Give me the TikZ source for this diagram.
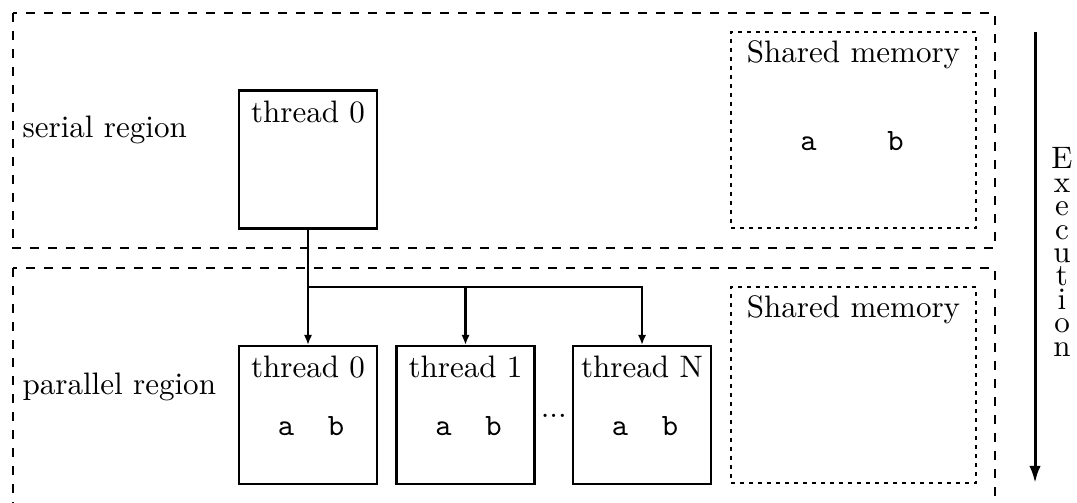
\documentclass[tikz,border=0pt]{standalone}
\usetikzlibrary{arrows.meta,calc}

\newcommand{\figfont}{\fontsize{10.35pt}{12pt}\selectfont}

\tikzset{
  every node/.style={font=\figfont},
  region/.style={draw, dashed, line width=0.7pt},
  shmem/.style={draw, line width=0.7pt, dash pattern=on 1.5pt off 1.5pt, minimum width=81.7pt, minimum height=65.3pt},
  thread/.style={draw, line width=0.7pt, minimum width=46pt, minimum height=46pt},
  var/.style={anchor = base, font=\figfont\ttfamily},
  fork/.style={line width=0.7pt, -{Latex[length=3.4pt, width=2.8pt]}},
}

\begin{document}
\begin{tikzpicture}[x=0.33333pt, y=-0.33333pt]
  \useasboundingbox (0,0) rectangle (1077,502);

  % serial region
  \draw[region] (13,13) rectangle (995,248);
  \node[anchor = base west, inner sep=0pt] (serial) at (22,137) {serial region};

  \node[thread] (st0) at (308,159.5) {};
  \node[anchor = base] (st0lbl) at ($(st0.north)+(0,33)$) {thread 0};

  \node[shmem] (sm1) at (853.5,130) {};
  \node[anchor = base] (sm1lbl) at ($(sm1.north)+(0,31)$) {Shared memory};
  \node[var] (sm1a) at ($(sm1.center)+(-45,20)$) {a};
  \node[var] (sm1b) at ($(sm1.center)+(42,20)$) {b};

  % parallel region
  \draw[region] (13,268) rectangle (995,530);
  \node[anchor = base west, inner sep=0pt] (parallel) at (22,394) {parallel region};

  \node[thread] (pt0) at (308,415) {};
  \node[anchor = base] (pt0lbl) at ($(pt0.north)+(0,33)$) {thread 0};
  \node[var] (pt0a) at ($(pt0.center)+(-22,20)$) {a};
  \node[var] (pt0b) at ($(pt0.center)+(28,20)$) {b};

  \node[thread] (pt1) at (465.5,415) {};
  \node[anchor = base] (pt1lbl) at ($(pt1.north)+(0,33)$) {thread 1};
  \node[var] (pt1a) at ($(pt1.center)+(-22,20)$) {a};
  \node[var] (pt1b) at ($(pt1.center)+(28,20)$) {b};

  \node[thread] (ptN) at (642,415) {};
  \node[anchor = base] (ptNlbl) at ($(ptN.north)+(0,33)$) {thread N};
  \node[var] (ptNa) at ($(ptN.center)+(-22,20)$) {a};
  \node[var] (ptNb) at ($(ptN.center)+(28,20)$) {b};
  \node[anchor = base] (dots) at ($(pt1.east)!0.5!(ptN.west)+(0,2)$) {...};

  \node[shmem] (sm2) at (853.5,385) {};
  \node[anchor = base] (sm2lbl) at ($(sm2.north)+(0,31)$) {Shared memory};

  % fork
  \coordinate (split) at (308,287);
  \draw[fork] (st0.south) -- (pt0.north);
  \draw[fork] (split) -| (pt1.north);
  \draw[fork] (split) -| (ptN.north);

  % time axis
  \coordinate (exectop) at (1035,32);
  \coordinate (execbot) at (1035,483);
  \draw[line width=1pt, -{Latex[length=5.7pt, width=3.8pt]}] (exectop) -- (execbot);
  \node[align=center, font={\figfont\baselineskip=7.8pt}] (exec) at (1062,252) {E\\x\\e\\c\\u\\t\\i\\o\\n};
\end{tikzpicture}
\end{document}
